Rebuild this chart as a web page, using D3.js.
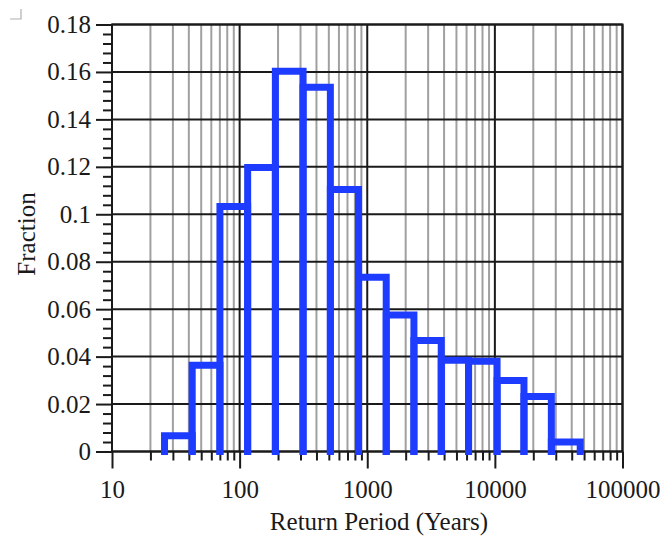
<!DOCTYPE html>
<html>
<head>
<meta charset="utf-8">
<script src="https://cdn.jsdelivr.net/npm/d3@7/dist/d3.min.js"></script>
<style>
  html, body { margin: 0; padding: 0; background: #ffffff; }
  svg { display: block; }
</style>
</head>
<body>
<script>
// ---- data ----
const binEdges = [25.8, 42.5, 70.1, 115.6, 190.6, 314.2, 514.0, 854.1, 1408, 2321, 3800, 6220, 10404, 16900, 27700, 46630];
const fractions = [0.0066, 0.0364, 0.1033, 0.1197, 0.1603, 0.1535, 0.1104, 0.0735, 0.0575, 0.0468, 0.0385, 0.0380, 0.0299, 0.0232, 0.0040];
const xTickValues = [10, 100, 1000, 10000, 100000];
const xTickLabels = ["10", "100", "1000", "10000", "100000"];
const xMinorMultipliers = [2, 3, 4, 5, 6, 7, 8, 9];
const yTickValues = [0, 0.02, 0.04, 0.06, 0.08, 0.1, 0.12, 0.14, 0.16, 0.18];
const yTickLabels = ["0", "0.02", "0.04", "0.06", "0.08", "0.1", "0.12", "0.14", "0.16", "0.18"];
const yMinorStep = 0.004;
const xTitle = "Return Period (Years)";
const yTitle = "Fraction";

(function () {
const FONT = '"Liberation Serif", "Times New Roman", serif';
const INK = "#1a1a1a";
// ---- layout ----
const W = 665, H = 538;
const pL = 112, pR = 622.5, pT = 24.5, pB = 451.5;

const svg = d3.select("body").append("svg").attr("width", W).attr("height", H);

const x = d3.scaleLog().domain([10, 100000]).range([pL, pR]);
const y = d3.scaleLinear().domain([0, 0.18]).range([pB, pT]);

// minor x values
const xMinor = [];
xTickValues.slice(0, -1).forEach(d => xMinorMultipliers.forEach(m => xMinor.push(d * m)));
// minor y values
const yMinor = d3.range(0, 0.18 + 1e-9, yMinorStep).filter(v => Math.abs(v / 0.02 - Math.round(v / 0.02)) > 1e-6);

// corner mark
svg.append("path").attr("d", "M10,19H21V9").attr("fill", "none").attr("stroke", "#b0b0b0").attr("stroke-width", 1.2);

// minor vertical grid
svg.append("g").selectAll("line").data(xMinor).join("line")
  .attr("x1", d => x(d)).attr("x2", d => x(d))
  .attr("y1", pT).attr("y2", pB)
  .attr("stroke", "#a0a0a0").attr("stroke-width", 2);

// major horizontal grid
svg.append("g").selectAll("line").data(yTickValues).join("line")
  .attr("x1", pL).attr("x2", pR)
  .attr("y1", d => y(d)).attr("y2", d => y(d))
  .attr("stroke", INK).attr("stroke-width", 2);

// major vertical grid
svg.append("g").selectAll("line").data(xTickValues).join("line")
  .attr("x1", d => x(d)).attr("x2", d => x(d))
  .attr("y1", pT).attr("y2", pB)
  .attr("stroke", INK).attr("stroke-width", 2);

// y axis (ticks outward on the left)
const yAxisMajor = d3.axisLeft(y).tickValues(yTickValues).tickSize(16)
  .tickFormat((d, i) => yTickLabels[i]).tickPadding(5);
const gy = svg.append("g").attr("transform", `translate(${pL},0)`).call(yAxisMajor);
const gyMinor = svg.append("g").attr("transform", `translate(${pL},0)`)
  .call(d3.axisLeft(y).tickValues(yMinor).tickSize(9).tickFormat(""));

// x axis (ticks outward at bottom)
const xAxisMajor = d3.axisBottom(x).tickValues(xTickValues).tickSize(17)
  .tickFormat((d, i) => xTickLabels[i]).tickPadding(12);
const gx = svg.append("g").attr("transform", `translate(0,${pB})`).call(xAxisMajor);
const gxMinor = svg.append("g").attr("transform", `translate(0,${pB})`)
  .call(d3.axisBottom(x).tickValues(xMinor).tickSize(9).tickFormat(""));

[gy, gyMinor, gx, gxMinor].forEach(g => {
  g.attr("font-family", null).attr("font-size", null);
  g.select(".domain").remove();
  g.selectAll(".tick line").attr("stroke", INK).attr("stroke-width", 2);
  g.selectAll("text").style("font-family", FONT).style("font-size", "25px").attr("fill", INK);
});

// frame
svg.append("rect").attr("x", pL).attr("y", pT)
  .attr("width", pR - pL).attr("height", pB - pT)
  .attr("fill", "none").attr("stroke", INK).attr("stroke-width", 2);

// bars (open outlines: left side, top, right side)
const bars = fractions.map((f, i) => ({ x0: binEdges[i], x1: binEdges[i + 1], v: f }));
svg.append("g").selectAll("path").data(bars).join("path")
  .attr("d", d => `M${x(d.x0)},${y(0)}V${y(d.v)}H${x(d.x1)}V${y(0)}`)
  .attr("fill", "none").attr("stroke", "#1e3cff").attr("stroke-width", 7)
  .attr("stroke-linecap", "square").attr("stroke-linejoin", "miter");

// titles
svg.append("text").attr("x", 379).attr("y", 530).attr("text-anchor", "middle")
  .style("font-family", FONT).style("font-size", "25px").attr("fill", INK).text(xTitle);
svg.append("text").attr("transform", `translate(35,${234}) rotate(-90)`)
  .attr("text-anchor", "middle")
  .style("font-family", FONT).style("font-size", "25px").attr("fill", INK).text(yTitle);
})();
</script>
</body>
</html>
